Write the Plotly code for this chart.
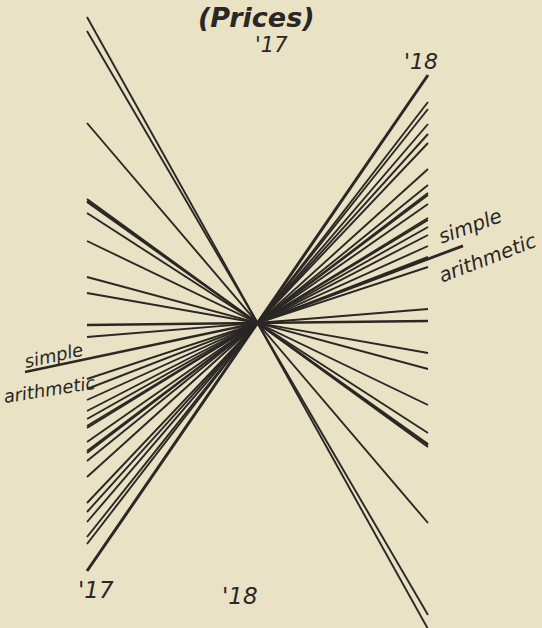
import plotly.graph_objects as go

# slopes of the price-relative lines (offset at the '18 end, center = 0)
rising = [248, 221, 214, 199, 189, 180, 154, 138, 130, 128, 119, 105, 103, 96, 88, 77, 66, 56, 14, 2]
falling = [-306, -292, -200, -124, -122, -121, -110, -82, -46, -30]
# simple arithmetic index, forward ('17 side) and backward ('18 side)
simple_17 = 36
simple_18 = 64

W, H = 542, 628
CX, CY, SPAN = 257.5, 323, 170.5
INK = "#2a2725"
PAPER = "#e9e2c5"


def px(x):
    return (x - CX) / SPAN


def py(y):
    return CY - y


fig = go.Figure()

for i, v in enumerate(rising + falling):
    w = 1.9
    if i == 0:
        w = 3.0
    if v == 2:
        w = 2.5
    fig.add_trace(go.Scatter(x=[-1, 1], y=[-v, v], mode="lines",
                             line=dict(color=INK, width=w), hoverinfo="skip"))

# simple arithmetic: two segments with different slopes
fig.add_trace(go.Scatter(x=[px(25), 0], y=[simple_17 * px(25), 0], mode="lines",
                         line=dict(color=INK, width=2.5), hoverinfo="skip"))
fig.add_trace(go.Scatter(x=[0, px(463)], y=[0, simple_18 * px(463)], mode="lines",
                         line=dict(color=INK, width=2.8), hoverinfo="skip"))

labels = [
    ("<b><i>(Prices)</i></b>", 256, 17, 27, 0),
    ("<i>'17</i>", 271, 45, 21, 0),
    ("<i>'18</i>", 421, 61, 22, 0),
    ("<i>'17</i>", 96, 590, 23, 0),
    ("<i>'18</i>", 240, 596, 23, 0),
    ("<i>simple</i>", 470, 226, 20, -20),
    ("<i>arithmetic</i>", 487, 258, 20, -21),
    ("<i>simple</i>", 53, 355, 18, -12),
    ("<i>arithmetic</i>", 49, 389, 18, -9),
]
for text, x, y, size, ang in labels:
    fig.add_annotation(x=px(x), y=py(y), text=text, showarrow=False,
                       textangle=ang, xanchor="center", yanchor="middle",
                       font=dict(family="DejaVu Sans", size=size, color=INK))

fig.update_layout(
    width=W, height=H,
    margin=dict(l=0, r=0, t=0, b=0),
    paper_bgcolor=PAPER, plot_bgcolor=PAPER,
    showlegend=False,
    xaxis=dict(range=[px(0), px(W)], visible=False, fixedrange=True),
    yaxis=dict(range=[py(H), py(0)], visible=False, fixedrange=True),
)

fig.write_html("out.html", config={"displayModeBar": False},
               post_script="document.body.style.margin='0';document.body.style.overflow='hidden';")
